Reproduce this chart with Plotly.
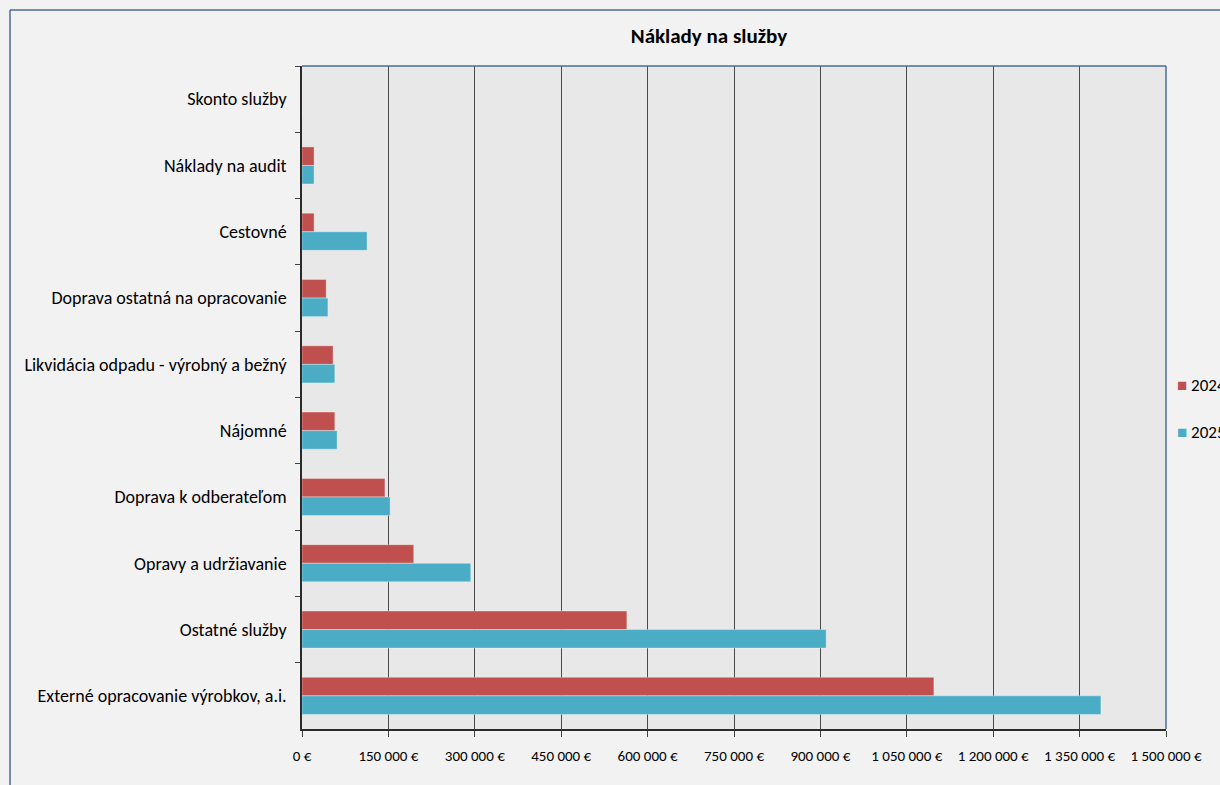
import plotly.graph_objects as go

categories = [
    "Skonto služby",
    "Náklady na audit",
    "Cestovné",
    "Doprava ostatná na opracovanie",
    "Likvidácia odpadu - výrobný a bežný",
    "Nájomné",
    "Doprava k odberateľom",
    "Opravy a udržiavanie",
    "Ostatné služby",
    "Externé opracovanie výrobkov, a.i.",
]
values_2024 = [0, 21000, 21000, 42000, 54000, 57000, 144000, 194000, 564000, 1097000]
values_2025 = [0, 21000, 113000, 45000, 57000, 61000, 153000, 293000, 910000, 1387000]
series_names = ["2024", "2025"]
tick_values = [0, 150000, 300000, 450000, 600000, 750000, 900000, 1050000, 1200000, 1350000, 1500000]


def eur(v):
    return f"{v:,}".replace(",", " ") + " €"


tick_text = [eur(v) for v in tick_values]

FONT = "Carlito, Calibri, 'Noto Sans', sans-serif"
RED = "#c0504d"
TEAL = "#4bacc6"
colors = [RED, TEAL]

fig = go.Figure()
for name, vals, col in zip(series_names, [values_2024, values_2025], colors):
    fig.add_trace(go.Bar(
        y=categories, x=vals, name=name, orientation="h",
        marker=dict(color=col, line=dict(color="rgba(255,255,255,0.35)", width=1)),
        showlegend=False,
    ))

W, H = 1220, 785
L, R, T, B = 302, 54, 66, 56
pw, ph = W - L - R, H - T - B


def px_x(p):
    return (p - L) / pw


def px_y(p):
    return 1 - (p - T) / ph


# legend drawn as coloured-square text entries (the reference legend is clipped at the right edge)
legend_y_px = [385, 432]
annotations = []
for name, col, ypx in zip(series_names, colors, legend_y_px):
    annotations.append(dict(
        xref="paper", yref="paper", x=px_x(1175), y=px_y(ypx),
        xanchor="left", yanchor="middle", showarrow=False,
        text=f"<span style='color:{col}'>■</span> {name}",
        font=dict(size=17, family=FONT, color="#000000"),
    ))

fig.update_layout(
    width=W, height=H,
    margin=dict(l=L, r=R, t=T, b=B, autoexpand=False),
    paper_bgcolor="#f2f2f2",
    plot_bgcolor="#e8e8e8",
    barmode="group",
    bargap=0.44,
    bargroupgap=0,
    font=dict(family=FONT, color="#000000"),
    title=dict(
        text="<b>Náklady na služby</b>",
        x=709 / W, xanchor="center", xref="container",
        y=1 - 36 / H, yanchor="middle", yref="container",
        font=dict(size=21, family=FONT, color="#000000"),
    ),
    showlegend=False,
    annotations=annotations,
    xaxis=dict(
        range=[0, 1500000],
        tickvals=tick_values,
        ticktext=tick_text,
        showgrid=True, gridcolor="#4a4a4a", gridwidth=1,
        zeroline=False,
        showline=True, linecolor="#2b2b2b", linewidth=1.5,
        ticks="outside", ticklen=6, tickcolor="#404040",
        tickfont=dict(size=15, family=FONT),
        ticklabelstandoff=6,
        fixedrange=True,
    ),
    yaxis=dict(
        autorange="reversed",
        showgrid=False,
        showline=True, linecolor="#2b2b2b", linewidth=1.5,
        ticks="outside", ticklen=5, tickcolor="#404040",
        tickson="boundaries",
        tickfont=dict(size=18, family=FONT),
        ticklabelstandoff=10,
    ),
    shapes=[
        dict(type="line", xref="paper", yref="paper",
             x0=px_x(10), x1=px_x(W + 20), y0=px_y(10), y1=px_y(10),
             line=dict(color="#4a6d9c", width=1.5)),
        dict(type="line", xref="paper", yref="paper",
             x0=px_x(10), x1=px_x(10), y0=px_y(10), y1=px_y(H + 20),
             line=dict(color="#4a6d9c", width=1.5)),
        dict(type="line", xref="paper", yref="paper",
             x0=0, x1=1, y0=1, y1=1, line=dict(color="#4a6d9c", width=1.5)),
        dict(type="line", xref="paper", yref="paper",
             x0=1, x1=1, y0=0, y1=1, line=dict(color="#4a6d9c", width=1.5)),
    ],
)

fig.write_html("out.html")
